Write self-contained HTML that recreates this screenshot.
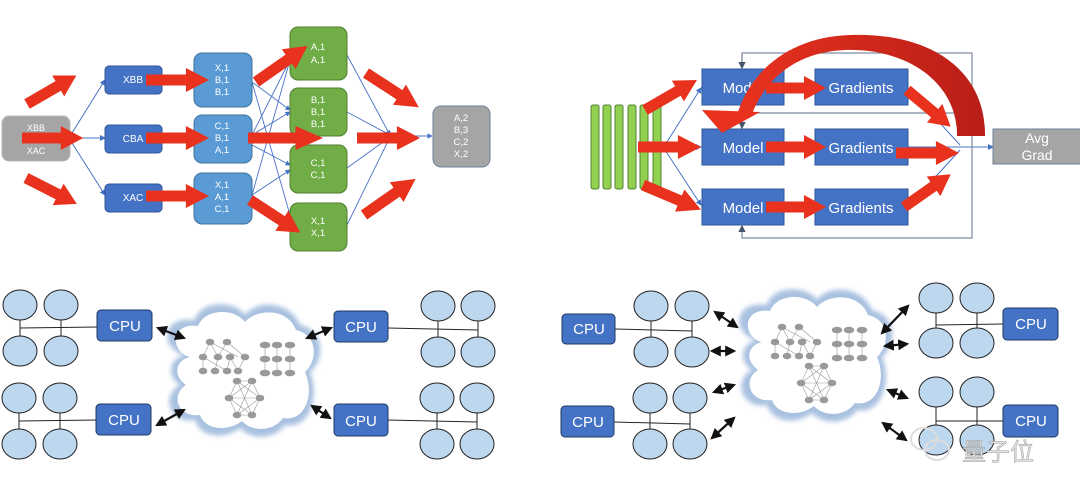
<!DOCTYPE html>
<html><head><meta charset="utf-8"><style>
html,body{margin:0;padding:0;background:#fff;}
svg{display:block;}
text{font-family:"Liberation Sans","Noto Sans CJK SC",sans-serif;}
</style></head><body>
<svg width="1080" height="496" viewBox="0 0 1080 496" xmlns="http://www.w3.org/2000/svg">
<defs>
<marker id="bh" markerWidth="6" markerHeight="6" refX="5" refY="3" orient="auto"><path d="M0,0 L6,3 L0,6z" fill="#4472c4"/></marker>
<marker id="kh" markerWidth="5" markerHeight="5" refX="4" refY="2.5" orient="auto-start-reverse"><path d="M0,0 L5,2.5 L0,5z" fill="#111"/></marker>
<marker id="gh" markerWidth="6" markerHeight="6" refX="5" refY="3" orient="auto"><path d="M0,0 L6,3 L0,6z" fill="#44546a"/></marker>
<g id="ra"><path d="M0,-5.5 L38,-5.5 L38,-12 L60,0 L38,12 L38,5.5 L0,5.5z" fill="#e8321e"/></g>
<filter id="bl"><feGaussianBlur stdDeviation="2.5"/></filter>
<linearGradient id="arcg" x1="0" y1="0" x2="1" y2="0"><stop offset="0" stop-color="#e8321e"/><stop offset="1" stop-color="#b81e18"/></linearGradient>
</defs>

<!-- ===== TOP LEFT ===== -->
<g stroke="#4a72c8" stroke-width="1" fill="none" marker-end="url(#bh)">
<line x1="72" y1="133" x2="105" y2="80"/>
<line x1="72" y1="138" x2="105" y2="138"/>
<line x1="72" y1="143" x2="105" y2="195"/>
</g>
<g stroke="#4a72c8" stroke-width="0.9" fill="none">
<line x1="252" y1="82" x2="290" y2="110" marker-end="url(#bh)"/>
<line x1="252" y1="82" x2="290" y2="215"/>
<line x1="252" y1="135" x2="290" y2="60"/>
<line x1="252" y1="135" x2="290" y2="112" marker-end="url(#bh)"/>
<line x1="252" y1="145" x2="290" y2="165" marker-end="url(#bh)"/>
<line x1="252" y1="195" x2="290" y2="60"/>
<line x1="252" y1="195" x2="290" y2="170" marker-end="url(#bh)"/>
<line x1="252" y1="195" x2="290" y2="225"/>
<line x1="347" y1="55" x2="390" y2="135" marker-end="url(#bh)"/>
<line x1="347" y1="112" x2="390" y2="135"/>
<line x1="347" y1="168" x2="390" y2="137"/>
<line x1="347" y1="225" x2="390" y2="137"/>
<line x1="390" y1="136" x2="432" y2="136" marker-end="url(#bh)"/>
</g>
<rect x="2" y="116" width="68" height="45" rx="7" fill="#a5a5a5" stroke="#b8b8b8"/>
<text x="36" y="131" font-size="9" fill="#fff" text-anchor="middle">XBB</text>
<text x="36" y="154" font-size="9" fill="#fff" text-anchor="middle">XAC</text>
<g fill="#4472c4" stroke="#2f5597">
<rect x="105" y="66" width="57" height="28" rx="4"/>
<rect x="105" y="125" width="57" height="28" rx="4"/>
<rect x="105" y="184" width="57" height="28" rx="4"/>
</g>
<g font-size="10" fill="#fff" text-anchor="middle">
<text x="133" y="83">XBB</text><text x="133" y="142">CBA</text><text x="133" y="201">XAC</text>
</g>
<g fill="#5b9bd5" stroke="#41719c">
<rect x="194" y="53" width="58" height="54" rx="8"/>
<rect x="194" y="115" width="58" height="48" rx="8"/>
<rect x="194" y="173" width="58" height="51" rx="8"/>
</g>
<g font-size="9.5" fill="#fff" text-anchor="middle">
<text x="222" y="71">X,1</text><text x="222" y="83">B,1</text><text x="222" y="95">B,1</text>
<text x="222" y="129">C,1</text><text x="222" y="141">B,1</text><text x="222" y="153">A,1</text>
<text x="222" y="188">X,1</text><text x="222" y="200">A,1</text><text x="222" y="212">C,1</text>
</g>
<g fill="#70ad47" stroke="#4e7f30">
<rect x="290" y="27" width="57" height="53" rx="8"/>
<rect x="290" y="88" width="57" height="48" rx="8"/>
<rect x="290" y="145" width="57" height="48" rx="8"/>
<rect x="290" y="203" width="57" height="48" rx="8"/>
</g>
<g font-size="9.5" fill="#fff" text-anchor="middle">
<text x="318" y="50">A,1</text><text x="318" y="63">A,1</text>
<text x="318" y="103">B,1</text><text x="318" y="115">B,1</text><text x="318" y="127">B,1</text>
<text x="318" y="166">C,1</text><text x="318" y="178">C,1</text>
<text x="318" y="224">X,1</text><text x="318" y="236">X,1</text>
</g>
<rect x="433" y="106" width="57" height="61" rx="8" fill="#a5a5a5" stroke="#6f7f9a"/>
<g font-size="9.5" fill="#fff" text-anchor="middle">
<text x="461" y="121">A,2</text><text x="461" y="133">B,3</text><text x="461" y="145">C,2</text><text x="461" y="157">X,2</text>
</g>
<use href="#ra" transform="translate(27,104) rotate(-30) scale(0.95,1)"/>
<use href="#ra" transform="translate(22,138) scale(1.02,1)"/>
<use href="#ra" transform="translate(26,178) rotate(27) scale(0.95,1)"/>
<use href="#ra" transform="translate(146,80) scale(1.05,1)"/>
<use href="#ra" transform="translate(146,138) scale(1.05,1)"/>
<use href="#ra" transform="translate(146,196) scale(1.05,1)"/>
<use href="#ra" transform="translate(256,82) rotate(-35) scale(1.05,1)"/>
<use href="#ra" transform="translate(248,138) scale(1.25,1)"/>
<use href="#ra" transform="translate(250,200) rotate(33) scale(1.0,1)"/>
<use href="#ra" transform="translate(366,73) rotate(33) scale(1.05,1)"/>
<use href="#ra" transform="translate(357,138) scale(1.05,1)"/>
<use href="#ra" transform="translate(364,215) rotate(-35) scale(1.05,1)"/>

<!-- ===== TOP RIGHT ===== -->
<g fill="#92d050" stroke="#548235" stroke-width="1">
<rect x="591" y="105" width="8" height="84" rx="2"/>
<rect x="603" y="105" width="8" height="84" rx="2"/>
<rect x="615" y="105" width="8" height="84" rx="2"/>
<rect x="628" y="105" width="8" height="84" rx="2"/>
<rect x="640" y="105" width="8" height="84" rx="2"/>
<rect x="653" y="105" width="8" height="84" rx="2"/>
</g>
<g stroke="#4a72c8" fill="none" stroke-width="1">
<line x1="665" y1="145" x2="701" y2="88" marker-end="url(#bh)"/>
<line x1="665" y1="147" x2="701" y2="147" marker-end="url(#bh)"/>
<line x1="665" y1="150" x2="701" y2="205" marker-end="url(#bh)"/>
<line x1="908" y1="147" x2="960" y2="147"/>
<line x1="908" y1="88" x2="960" y2="145"/>
<line x1="908" y1="207" x2="960" y2="150"/>
<line x1="960" y1="147" x2="993" y2="147" marker-end="url(#bh)"/>
</g>
<g stroke="#7f8aa0" fill="none" stroke-width="1.2">
<path d="M742 68 L742 53 L972 53 L972 238 L742 238 L742 226" marker-end="url(#gh)"/>
<path d="M962 113 L742 113 L742 128" marker-end="url(#gh)"/>
<line x1="742" y1="53" x2="742" y2="68" marker-end="url(#gh)"/>
</g>
<g fill="#4472c4" stroke="#2f5597">
<rect x="702" y="69" width="82" height="36"/>
<rect x="702" y="129" width="82" height="36"/>
<rect x="702" y="189" width="82" height="36"/>
<rect x="815" y="69" width="93" height="36"/>
<rect x="815" y="129" width="93" height="36"/>
<rect x="815" y="189" width="93" height="36"/>
</g>
<g font-size="15" fill="#fff" text-anchor="middle">
<text x="743" y="93">Model</text><text x="743" y="153">Model</text><text x="743" y="213">Model</text>
<text x="861" y="93">Gradients</text><text x="861" y="153">Gradients</text><text x="861" y="213">Gradients</text>
</g>
<rect x="993" y="129" width="90" height="35" fill="#a5a5a5" stroke="#6f7f9a"/>
<text x="1037" y="143" font-size="14" fill="#fff" text-anchor="middle">Avg</text>
<text x="1037" y="160" font-size="14" fill="#fff" text-anchor="middle">Grad</text>
<use href="#ra" transform="translate(645,110) rotate(-30) scale(1.0,1)"/>
<use href="#ra" transform="translate(638,147) scale(1.05,1)"/>
<use href="#ra" transform="translate(643,185) rotate(23) scale(1.05,1)"/>
<use href="#ra" transform="translate(766,88) scale(1.0,1)"/>
<use href="#ra" transform="translate(766,147) scale(1.0,1)"/>
<use href="#ra" transform="translate(766,207) scale(1.0,1)"/>
<use href="#ra" transform="translate(907,90) rotate(40) scale(0.95,1)"/>
<use href="#ra" transform="translate(896,153) scale(1.05,1)"/>
<use href="#ra" transform="translate(904,207) rotate(-35) scale(0.95,1)"/>
<!-- big curved arrow -->
<path d="M985 136 C986 70, 930 32, 850 35 C790 37, 752 70, 738 112 L752 114 C765 80, 795 52, 845 50 C910 48, 958 85, 957 136 Z" fill="url(#arcg)"/>
<path d="M702 110 L760 112 L722 133 Z" fill="#e8321e"/>

<!-- ===== BOTTOM ===== -->
<g id="cloudL">
<path d="M185 355 C160 350,160 315,195 320 C200 300,235 300,245 315 C255 300,290 300,300 325 C325 330,325 360,310 372 C320 395,310 430,285 425 C275 440,250 440,240 428 C225 440,200 438,195 420 C170 425,160 395,180 385 C165 375,170 358,185 355Z" fill="#a9c1e0" filter="url(#bl)"/>
<path d="M190 357 C170 352,170 322,198 326 C205 308,235 308,245 322 C257 308,288 308,296 330 C318 335,318 360,305 372 C315 395,305 422,283 418 C273 432,252 432,242 421 C228 432,205 430,200 415 C178 418,170 395,186 385 C172 375,176 360,190 357Z" fill="#fff"/>
</g>
<use href="#cloudL" transform="translate(572,-15)"/>
<g id="nets" fill="#999" stroke="#999" stroke-width="0.6">
<g>
<line x1="210" y1="342" x2="203" y2="357"/><line x1="210" y1="342" x2="218" y2="357"/><line x1="210" y1="342" x2="238" y2="357"/><line x1="227" y1="342" x2="218" y2="357"/><line x1="227" y1="342" x2="245" y2="357"/>
<line x1="203" y1="357" x2="203" y2="371"/><line x1="218" y1="357" x2="215" y2="371"/><line x1="230" y1="357" x2="227" y2="371"/><line x1="245" y1="357" x2="238" y2="371"/><line x1="203" y1="357" x2="227" y2="371"/><line x1="230" y1="357" x2="238" y2="371"/>
<ellipse cx="210" cy="342" rx="4" ry="3"/><ellipse cx="227" cy="342" rx="4" ry="3"/>
<ellipse cx="203" cy="357" rx="4" ry="3"/><ellipse cx="218" cy="357" rx="4" ry="3"/><ellipse cx="230" cy="357" rx="4" ry="3"/><ellipse cx="245" cy="357" rx="4" ry="3"/>
<ellipse cx="203" cy="371" rx="4" ry="3"/><ellipse cx="215" cy="371" rx="4" ry="3"/><ellipse cx="227" cy="371" rx="4" ry="3"/><ellipse cx="238" cy="371" rx="4" ry="3"/>
</g>
<g>
<line x1="265" y1="345" x2="265" y2="373"/><line x1="277" y1="345" x2="277" y2="373"/><line x1="290" y1="345" x2="290" y2="373"/>
<ellipse cx="265" cy="345" rx="5" ry="3"/><ellipse cx="277" cy="345" rx="5" ry="3"/><ellipse cx="290" cy="345" rx="5" ry="3"/>
<ellipse cx="265" cy="359" rx="5" ry="3"/><ellipse cx="277" cy="359" rx="5" ry="3"/><ellipse cx="290" cy="359" rx="5" ry="3"/>
<ellipse cx="265" cy="373" rx="5" ry="3"/><ellipse cx="277" cy="373" rx="5" ry="3"/><ellipse cx="290" cy="373" rx="5" ry="3"/>
</g>
<g fill="none">
<path d="M237 381 L252 381 L260 398 L252 415 L237 415 L229 398Z M237 381 L252 415 M252 381 L237 415 M229 398 L260 398 M237 381 L260 398 M252 381 L229 398 M237 415 L260 398 M252 415 L229 398"/>
</g>
<ellipse cx="237" cy="381" rx="4" ry="3"/><ellipse cx="252" cy="381" rx="4" ry="3"/><ellipse cx="229" cy="398" rx="4" ry="3"/><ellipse cx="260" cy="398" rx="4" ry="3"/><ellipse cx="237" cy="415" rx="4" ry="3"/><ellipse cx="252" cy="415" rx="4" ry="3"/>
</g>
<use href="#nets" transform="translate(572,-15)"/>

<g id="grp" stroke="#222" stroke-width="1">
<line x1="20" y1="320" x2="20" y2="336"/><line x1="61" y1="320" x2="61" y2="336"/>
<line x1="20" y1="328" x2="98" y2="327"/>
<g fill="#bdd7ee"><ellipse cx="20" cy="305" rx="17" ry="15"/><ellipse cx="61" cy="305" rx="17" ry="15"/><ellipse cx="20" cy="351" rx="17" ry="15"/><ellipse cx="61" cy="351" rx="17" ry="15"/></g>
</g>
<use href="#grp" transform="translate(-1,93)"/>
<g id="grpR" stroke="#222" stroke-width="1">
<line x1="438" y1="321" x2="438" y2="337"/><line x1="478" y1="321" x2="478" y2="337"/>
<line x1="388" y1="328" x2="478" y2="330"/>
<g fill="#bdd7ee"><ellipse cx="438" cy="306" rx="17" ry="15"/><ellipse cx="478" cy="306" rx="17" ry="15"/><ellipse cx="438" cy="352" rx="17" ry="15"/><ellipse cx="478" cy="352" rx="17" ry="15"/></g>
</g>
<use href="#grpR" transform="translate(-1,92)"/>
<g stroke="#222" stroke-width="1">
<line x1="615" y1="329" x2="692" y2="331"/><line x1="651" y1="321" x2="651" y2="337"/><line x1="692" y1="321" x2="692" y2="337"/>
<line x1="614" y1="422" x2="690" y2="424"/><line x1="650" y1="413" x2="650" y2="429"/><line x1="690" y1="413" x2="690" y2="429"/>
<line x1="936" y1="325" x2="1003" y2="324"/><line x1="936" y1="313" x2="936" y2="328"/><line x1="977" y1="313" x2="977" y2="328"/>
<line x1="936" y1="421" x2="1003" y2="421"/><line x1="936" y1="407" x2="936" y2="425"/><line x1="977" y1="407" x2="977" y2="425"/>
<g fill="#bdd7ee">
<ellipse cx="651" cy="306" rx="17" ry="15"/><ellipse cx="692" cy="306" rx="17" ry="15"/><ellipse cx="651" cy="352" rx="17" ry="15"/><ellipse cx="692" cy="352" rx="17" ry="15"/>
<ellipse cx="650" cy="398" rx="17" ry="15"/><ellipse cx="690" cy="398" rx="17" ry="15"/><ellipse cx="650" cy="444" rx="17" ry="15"/><ellipse cx="690" cy="444" rx="17" ry="15"/>
<ellipse cx="936" cy="298" rx="17" ry="15"/><ellipse cx="977" cy="298" rx="17" ry="15"/><ellipse cx="936" cy="343" rx="17" ry="15"/><ellipse cx="977" cy="343" rx="17" ry="15"/>
<ellipse cx="936" cy="392" rx="17" ry="15"/><ellipse cx="977" cy="392" rx="17" ry="15"/><ellipse cx="936" cy="440" rx="17" ry="15"/><ellipse cx="977" cy="440" rx="17" ry="15"/>
</g>
</g>
<g fill="#4472c4" stroke="#1f3864" stroke-width="1">
<rect x="97" y="310" width="55" height="31" rx="4"/><rect x="96" y="404" width="55" height="31" rx="4"/>
<rect x="334" y="311" width="54" height="31" rx="4"/><rect x="334" y="404" width="54" height="32" rx="4"/>
<rect x="562" y="314" width="53" height="30" rx="4"/><rect x="561" y="406" width="53" height="31" rx="4"/>
<rect x="1003" y="308" width="55" height="32" rx="4"/><rect x="1003" y="405" width="55" height="32" rx="4"/>
</g>
<g font-size="15" fill="#fff" text-anchor="middle">
<text x="125" y="331">CPU</text><text x="124" y="425">CPU</text>
<text x="361" y="332">CPU</text><text x="361" y="426">CPU</text>
<text x="589" y="334">CPU</text><text x="588" y="427">CPU</text>
<text x="1031" y="329">CPU</text><text x="1031" y="426">CPU</text>
</g>
<g stroke="#111" stroke-width="2.2" marker-start="url(#kh)" marker-end="url(#kh)">
<line x1="158" y1="328" x2="184" y2="338"/>
<line x1="157" y1="425" x2="184" y2="410"/>
<line x1="307" y1="338" x2="331" y2="328"/>
<line x1="312" y1="406" x2="330" y2="418"/>
<line x1="715" y1="312" x2="737" y2="327"/>
<line x1="712" y1="351" x2="734" y2="351"/>
<line x1="714" y1="392" x2="734" y2="385"/>
<line x1="712" y1="438" x2="734" y2="418"/>
<line x1="882" y1="333" x2="908" y2="306"/>
<line x1="885" y1="346" x2="907" y2="344"/>
<line x1="888" y1="390" x2="907" y2="398"/>
<line x1="883" y1="423" x2="906" y2="440"/>
</g>
<g fill="none" stroke="#ddd" stroke-width="2">
<ellipse cx="924" cy="439" rx="13" ry="11"/><ellipse cx="937" cy="450" rx="12" ry="10"/>
</g>
<text x="962" y="460" font-size="24" fill="#e4e4e4" stroke="#999" stroke-width="0.5">量子位</text>
</svg>
</body></html>
